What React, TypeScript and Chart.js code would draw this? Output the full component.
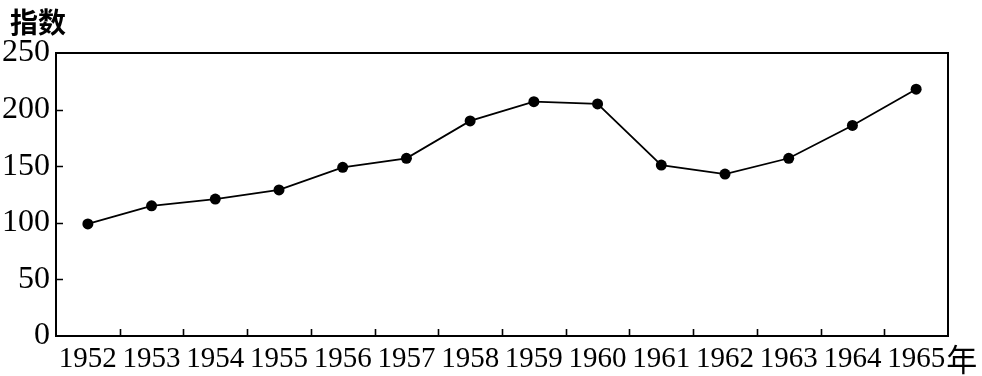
import React, { useEffect, useRef } from 'react';
import { Chart, registerables } from 'chart.js';

Chart.register(...registerables);

const years = ['1952', '1953', '1954', '1955', '1956', '1957', '1958', '1959', '1960', '1961', '1962', '1963', '1964', '1965'];
const indexValues = [99, 115, 121, 129, 149, 157, 190, 207, 205, 151, 143, 157, 186, 218];
const yTickValues = [50, 100, 150, 200];
const yTitle = '指数';
const xUnit = '年';

const SERIF = '"Liberation Serif", "Times New Roman", serif';
const CJK = '"Noto Sans CJK SC", sans-serif';
const X_FONT = 29;
const X_PAD = 6;

const framePlugin = {
  id: 'frameAndTicks',
  afterDraw(chart: any) {
    const { ctx, chartArea } = chart;
    const xs = chart.scales.x;
    const ys = chart.scales.y;
    ctx.save();
    ctx.strokeStyle = '#000';
    ctx.lineWidth = 2;
    ctx.strokeRect(chartArea.left, chartArea.top, chartArea.right - chartArea.left, chartArea.bottom - chartArea.top);
    ctx.lineWidth = 1.6;
    ctx.beginPath();
    for (let i = 0; i < years.length - 1; i++) {
      const x = Math.round((xs.getPixelForValue(i) + xs.getPixelForValue(i + 1)) / 2) + 0.5;
      ctx.moveTo(x, chartArea.bottom);
      ctx.lineTo(x, chartArea.bottom - 7);
    }
    for (const v of yTickValues) {
      const y = Math.round(ys.getPixelForValue(v)) + 0.5;
      ctx.moveTo(chartArea.left, y);
      ctx.lineTo(chartArea.left + 7, y);
    }
    ctx.stroke();
    ctx.fillStyle = '#000';
    // axis title "指数" above the y axis labels
    ctx.font = `bold 28px ${CJK}`;
    ctx.textAlign = 'left';
    ctx.textBaseline = 'middle';
    ctx.fillText(yTitle, chartArea.left - 46, chartArea.top - 31);
    // unit "年" after last x label
    const lastX = xs.getPixelForValue(years.length - 1);
    ctx.font = `${X_FONT}px ${SERIF}`;
    const w = ctx.measureText(years[years.length - 1]).width;
    ctx.font = `${X_FONT + 2}px ${CJK}`;
    const y = xs.top + X_PAD + (X_FONT * 1.2) / 2;
    ctx.fillText(xUnit, lastX + w / 2 + 1, y);
    ctx.restore();
  },
};

export default function App() {
  const ref = useRef<HTMLCanvasElement | null>(null);
  useEffect(() => {
    if (!ref.current) return;
    const chart = new Chart(ref.current, {
      type: 'line',
      data: {
        labels: years,
        datasets: [
          {
            data: indexValues,
            borderColor: '#000',
            backgroundColor: '#000',
            borderWidth: 1.8,
            pointRadius: 5.5,
            pointBackgroundColor: '#000',
            pointBorderWidth: 0,
            tension: 0,
          },
        ],
      },
      options: {
        responsive: false,
        animation: false,
        layout: { autoPadding: false, padding: { left: 0, right: 34, top: 53, bottom: 0 } },
        plugins: {
          legend: { display: false },
          tooltip: { enabled: false },
          title: { display: false },
        },
        scales: {
          x: {
            type: 'category',
            offset: true,
            grid: { display: false, drawTicks: false },
            border: { display: false },
            afterFit: (scale: any) => {
              scale.height = 40;
            },
            ticks: {
              color: '#000',
              font: { family: SERIF, size: X_FONT },
              padding: X_PAD,
              maxRotation: 0,
              autoSkip: false,
            },
          },
          y: {
            min: 0,
            max: 250,
            grid: { display: false, drawTicks: false },
            border: { display: false },
            afterFit: (scale: any) => {
              scale.width = 56;
            },
            ticks: {
              stepSize: 50,
              color: '#000',
              font: { family: SERIF, size: 32 },
              padding: 6,
            },
          },
        },
      },
      plugins: [framePlugin],
    });
    return () => chart.destroy();
  }, []);
  return (
    <div style={{ position: 'absolute', left: 0, top: 0, width: 982, height: 376, background: '#fff' }}>
      <canvas ref={ref} width={982} height={376} />
    </div>
  );
}
